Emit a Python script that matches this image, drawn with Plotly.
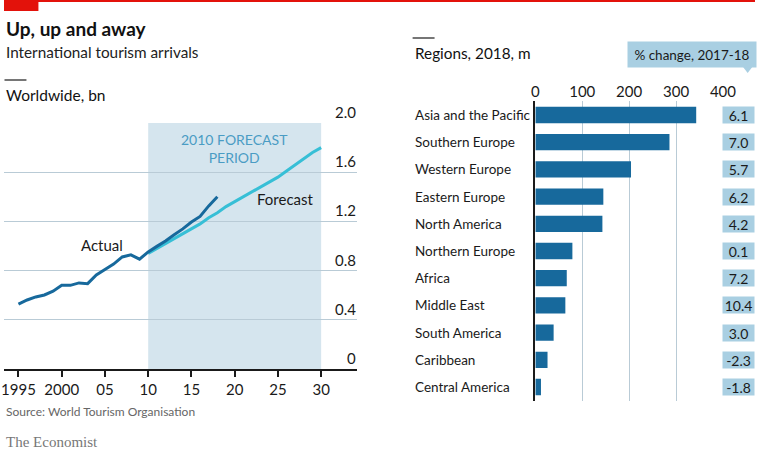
import plotly.graph_objects as go

W, H = 768, 451
FONT = "Lato"

# ---------------- data ----------------
years_actual = list(range(1995, 2019))
actual_bn = [0.527, 0.561, 0.586, 0.602, 0.633, 0.680, 0.680, 0.700, 0.694, 0.764,
             0.809, 0.853, 0.911, 0.928, 0.893, 0.952, 0.997, 1.040, 1.091, 1.139,
             1.195, 1.240, 1.326, 1.401]
years_forecast = list(range(2010, 2031))
forecast_bn = [0.94, 0.98, 1.02, 1.06, 1.10, 1.14, 1.18, 1.23, 1.27, 1.32, 1.36,
               1.40, 1.44, 1.48, 1.52, 1.56, 1.61, 1.66, 1.71, 1.76, 1.80]
forecast_period = [2010, 2030]
left_xticks = [1995, 2000, 2005, 2010, 2015, 2020, 2025, 2030]
left_xticklabels = ["1995", "2000", "05", "10", "15", "20", "25", "30"]
left_yticks = [0, 0.4, 0.8, 1.2, 1.6, 2.0]
left_yticklabels = ["0", "0.4", "0.8", "1.2", "1.6", "2.0"]

regions = ["Asia and the Pacific", "Southern Europe", "Western Europe", "Eastern Europe",
           "North America", "Northern Europe", "Africa", "Middle East", "South America",
           "Caribbean", "Central America"]
arrivals_m = [343, 286, 204, 145, 143, 79, 67, 64, 39, 26, 12]
change_pct = [6.1, 7.0, 5.7, 6.2, 4.2, 0.1, 7.2, 10.4, 3.0, -2.3, -1.8]
right_xticks = [0, 100, 200, 300, 400]

# ---------------- helpers ----------------
# horizontal calibration of the rendered picture (observed = OX + SX * paper_px)
OX, SX = 2.5, 0.98

def X(xref_px):
    v = (xref_px - OX) / SX
    return min(max(v, 0.0), W)

def px(xref_px):
    return X(xref_px) / W

def py(y):
    return 1 - y / H

DARK = "#1a1a1a"
GRID = "#b9cbd6"
BLUE = "#17699c"
CYAN = "#37bfd6"
SHADE = "#d5e5ee"
BOX = "#a9cfe2"

fig = go.Figure()

fig.add_trace(go.Scatter(x=years_forecast, y=forecast_bn, mode="lines",
                         line=dict(color=CYAN, width=3), xaxis="x", yaxis="y",
                         hoverinfo="skip", showlegend=False))
fig.add_trace(go.Scatter(x=years_actual, y=actual_bn, mode="lines",
                         line=dict(color=BLUE, width=3), xaxis="x", yaxis="y",
                         showlegend=False))
fig.add_trace(go.Bar(x=arrivals_m, y=regions, orientation="h", marker=dict(color=BLUE, line=dict(width=0)),
                     width=0.6, xaxis="x2", yaxis="y2", showlegend=False))

# left x axis: year <-> reference pixel (1995 at 17 px, 8.667 px per year)
def yr_at(ref_px):
    return 1995 + (ref_px - 17) / 8.667

lx0, lx1 = X(2), X(356)
x_range = [yr_at(OX + SX * lx0), yr_at(OX + SX * lx1)]

fig.update_layout(
    width=W, height=H, autosize=False,
    margin=dict(l=0, r=0, t=0, b=0),
    paper_bgcolor="white", plot_bgcolor="rgba(0,0,0,0)",
    font=dict(family=FONT, color=DARK, size=14),
    xaxis=dict(domain=[lx0 / W, lx1 / W], range=x_range, tickvals=left_xticks,
               ticktext=left_xticklabels, ticks="outside", ticklen=6, tickcolor=DARK,
               tickwidth=1.5, showline=True, linecolor=DARK, linewidth=1.5,
               showgrid=False, zeroline=False, tickfont=dict(size=15, color=DARK),
               anchor="y"),
    yaxis=dict(domain=[py(369), py(123)], range=[0, 2.0], tickvals=left_yticks,
               showticklabels=False, showgrid=True, gridcolor=GRID, gridwidth=1,
               zeroline=False, showline=False, anchor="x"),
    xaxis2=dict(domain=[px(535), px(723)], range=[0, 400], tickvals=right_xticks,
                side="top", showgrid=True, gridcolor=GRID, gridwidth=1,
                zeroline=False, showline=False, ticks="",
                tickfont=dict(size=15, color=DARK), anchor="y2"),
    yaxis2=dict(domain=[py(400.6), py(101.4)], autorange="reversed",
                showticklabels=False, showgrid=False, zeroline=False,
                showline=True, linecolor=DARK, linewidth=1.5, anchor="x2"),
    bargap=0.4,
)

shapes = []
shapes.append(dict(type="rect", xref="x", yref="y", x0=forecast_period[0], x1=forecast_period[1],
                   y0=0, y1=2.0, fillcolor=SHADE, line=dict(width=0), layer="below"))
shapes.append(dict(type="rect", xref="paper", yref="paper", x0=0, x1=1, y0=py(2), y1=1,
                   fillcolor="#e3120b", line=dict(width=0)))
shapes.append(dict(type="rect", xref="paper", yref="paper", x0=0, x1=px(37), y0=py(11), y1=1,
                   fillcolor="#e3120b", line=dict(width=0)))
shapes.append(dict(type="line", xref="paper", yref="paper", x0=px(3), x1=px(25), y0=py(80), y1=py(80),
                   line=dict(color=DARK, width=1.2)))
shapes.append(dict(type="line", xref="paper", yref="paper", x0=px(412), x1=px(434), y0=py(38), y1=py(38),
                   line=dict(color=DARK, width=1.2)))
shapes.append(dict(type="path", xref="paper", yref="paper",
                   path=f"M {755 / W},{py(66)} L {766 / W},{py(66)} L {760.5 / W},{py(73)} Z",
                   fillcolor=BOX, line=dict(width=0)))
fig.update_layout(shapes=shapes)

ann = []
ann.append(dict(text="<b>Up, up and away</b>", x=px(3), y=py(28), xref="paper", yref="paper",
                xanchor="left", yanchor="middle", showarrow=False, font=dict(size=19, color="#111")))
ann.append(dict(text="International tourism arrivals", x=px(3), y=py(52), xref="paper", yref="paper",
                xanchor="left", yanchor="middle", showarrow=False, font=dict(size=15.3, color="#222")))
ann.append(dict(text="Worldwide, bn", x=px(3), y=py(95), xref="paper", yref="paper",
                xanchor="left", yanchor="middle", showarrow=False, font=dict(size=15.5, color="#111")))
ann.append(dict(text="Regions, 2018, m", x=px(412), y=py(53), xref="paper", yref="paper",
                xanchor="left", yanchor="middle", showarrow=False, font=dict(size=15.3, color="#111")))
ann.append(dict(text="Source: World Tourism Organisation", x=px(3), y=py(411), xref="paper", yref="paper",
                xanchor="left", yanchor="middle", showarrow=False, font=dict(size=12, color="#666")))
ann.append(dict(text="The Economist", x=px(3), y=py(442), xref="paper", yref="paper",
                xanchor="left", yanchor="middle", showarrow=False,
                font=dict(size=15, color="#777", family="Liberation Serif")))
for v, t in zip(left_yticks, left_yticklabels):
    ann.append(dict(text=t, x=px(357), y=v, xref="paper", yref="y", xanchor="right", yanchor="bottom",
                    showarrow=False, font=dict(size=15, color=DARK)))
ann.append(dict(text="2010 FORECAST<br>PERIOD", x=2020, y=1.79, xref="x", yref="y", xanchor="center",
                yanchor="middle", showarrow=False, font=dict(size=14, color="#4a9cc4")))
ann.append(dict(text="Forecast", x=2022.4, y=1.38, xref="x", yref="y", xanchor="left",
                yanchor="middle", showarrow=False, font=dict(size=15, color=DARK)))
ann.append(dict(text="Actual", x=2004.7, y=1.01, xref="x", yref="y", xanchor="center",
                yanchor="middle", showarrow=False, font=dict(size=15, color=DARK)))
for r, c in zip(regions, change_pct):
    ann.append(dict(text=r, x=px(412), y=r, xref="paper", yref="y2", xanchor="left", yanchor="middle",
                    showarrow=False, font=dict(size=13.5, color=DARK)))
    ann.append(dict(text=f"{c:.1f}", x=751.5 / W, y=r, xref="paper", yref="y2", xanchor="center",
                    yanchor="middle", showarrow=False, bgcolor=BOX, width=29, height=14,
                    borderpad=1, font=dict(size=14, color=DARK)))
ann.append(dict(text="% change, 2017-18", x=703.5 / W, y=py(54.5), xref="paper", yref="paper",
                xanchor="center", yanchor="middle", showarrow=False, bgcolor=BOX, width=124, height=21,
                borderpad=2, font=dict(size=13.5, color=DARK)))
fig.update_layout(annotations=ann)

fig.write_html("out.html")
